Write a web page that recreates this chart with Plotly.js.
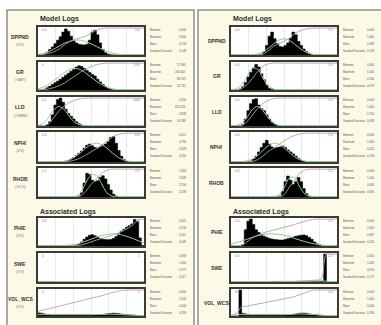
<!DOCTYPE html>
<html><head><meta charset="utf-8">
<script src="https://cdn.plot.ly/plotly-3.0.1.min.js"></script>
<style>html,body{margin:0;padding:0;background:#fff;}#chart{width:381px;height:325px;}</style>
</head><body><div id="chart"></div>
<script>
// ---------- data ----------
const BIN_X = [0,2.5,5,7.5,10,12.5,15,17.5,20,22.5,25,27.5,30,32.5,35,37.5,40,42.5,45,47.5,50,52.5,55,57.5,60,62.5,65,67.5,70,72.5,75,77.5,80,82.5,85,87.5,90,92.5,95,97.5,100];
const FIT_X = [0,5,10,15,20,25,30,35,40,45,50,55,60,65,70,75,80,85,90,95,100];

const MODEL_LOGS = ['DPPND','GR','LLD','NPHI','RHOB'];
const ASSOC_LOGS = ['PHIE','SWE','VOL_WCS'];
const LEFT_UNITS = ['(V/V)','(GAPI)','(OHMM)','(V/V)','(G/C3)','(V/V)','(V/V)','(V/V)'];
const STAT_LABELS = ['Minimum','Maximum','Mean','Standard Deviation'];
const LEFT_MIN  = ['0.000','17.963','0.200','0.012','1.483','0.001','0.083','0.000'];
const LEFT_MAX  = ['0.600','243.645','618.258','0.780','2.839','0.234','1.000','1.000'];
const LEFT_MEAN = ['0.133','88.529','2.848','0.329','2.294','0.115','0.977','0.404'];
const LEFT_STD  = ['0.148','32.745','10.588','0.116','0.139','0.068','0.117','0.286'];
const RIGHT_MIN  = ['0.000','0.000','0.000','0.000','0.000','0.000','0.000','0.000'];
const RIGHT_MAX  = ['1.000','1.000','1.000','1.000','1.000','1.000','1.000','1.000'];
const RIGHT_MEAN = ['0.489','0.166','0.190','0.424','0.634','0.387','0.913','0.404'];
const RIGHT_STD  = ['0.136','0.079','0.088','0.136','0.091','0.202','0.177','0.286'];
const LEFT_CORNER_LO = ['0.0','0','0.1','0.0','1.5','0.0','0','0'];
const LEFT_CORNER_HI = ['0.6','250','1000','0.8','2.9','0.3','1','1'];
const RIGHT_CORNER_LO = ['0.0','0.0','0.0','0.0','0.0','0.0','0.0','0.0'];
const RIGHT_CORNER_HI = ['1.0','1.0','1.0','1.0','1.0','1.0','1.0','1.0'];

// left panel (raw logs)
const L_DPPND_HIST = [0,0,0.03,0.1,0.2,0.3,0.42,0.55,0.68,0.85,0.97,0.88,0.7,0.55,0.45,0.4,0.38,0.37,0.4,0.55,0.85,0.92,0.75,0.45,0.2,0.08,0.03,0.01,0,0,0,0,0,0,0,0,0,0,0,0,0];
const L_GR_HIST    = [0,0,0.03,0.08,0.14,0.2,0.27,0.33,0.4,0.47,0.55,0.62,0.7,0.76,0.85,0.9,0.87,0.8,0.72,0.65,0.58,0.52,0.4,0.3,0.2,0.12,0.06,0.02,0,0,0,0,0,0,0,0,0,0,0,0,0];
const L_LLD_HIST   = [0,0,0,0.05,0.15,0.4,0.75,0.95,1.0,0.85,0.6,0.45,0.35,0.25,0.15,0.08,0.03,0.01,0,0,0,0,0,0,0,0,0,0,0,0,0,0,0,0,0,0,0,0,0,0,0];
const L_NPHI_HIST  = [0,0,0,0,0,0,0,0,0,0,0.02,0.05,0.1,0.15,0.22,0.3,0.38,0.48,0.58,0.62,0.56,0.5,0.48,0.52,0.58,0.62,0.7,0.85,0.88,0.65,0.4,0.2,0.08,0.02,0,0,0,0,0,0,0];
const L_RHOB_HIST  = [0,0,0,0,0,0,0,0,0,0,0,0,0,0,0,0.03,0.15,0.5,0.85,0.8,0.6,0.55,0.58,0.7,0.76,0.65,0.45,0.25,0.1,0.03,0,0,0,0,0,0,0,0,0,0,0];
const L_PHIE_HIST  = [0,0,0,0,0,0,0,0,0,0,0,0,0,0,0.02,0.06,0.15,0.25,0.33,0.4,0.42,0.38,0.32,0.28,0.25,0.24,0.23,0.24,0.28,0.35,0.45,0.55,0.62,0.7,0.75,0.82,0.98,0.9,0.3,0.02,0];
const L_SWE_HIST   = [0.01,0.01,0.01,0.01,0.01,0.01,0,0,0,0,0,0,0,0,0,0,0,0,0,0,0,0,0,0,0,0,0,0,0,0,0,0,0,0,0,0,0,0,0,0,0];
const L_VOL_HIST   = [0.12,0.1,0.08,0.06,0.05,0.05,0.04,0.05,0.05,0.04,0.05,0.05,0.04,0.05,0.05,0.05,0.04,0.05,0.05,0.05,0.05,0.04,0.05,0.05,0.06,0.07,0.09,0.1,0.11,0.1,0.09,0.07,0.05,0.05,0.04,0.04,0.03,0.02,0.01,0,0];

const L_DPPND_FIT = [0.02,0.05,0.12,0.22,0.33,0.44,0.51,0.55,0.55,0.5,0.42,0.32,0.22,0.13,0.07,0.03,0.01,0,0,0,0];
const L_GR_FIT    = [0.05,0.1,0.2,0.35,0.5,0.65,0.76,0.8,0.76,0.63,0.48,0.33,0.2,0.1,0.05,0.02,0,0,0,0,0];
const L_LLD_FIT   = [0.02,0.1,0.3,0.58,0.7,0.58,0.32,0.12,0.04,0.01,0,0,0,0,0,0,0,0,0,0,0];
const L_NPHI_FIT  = [0,0,0,0,0.01,0.03,0.08,0.18,0.32,0.48,0.6,0.65,0.6,0.48,0.32,0.18,0.08,0.03,0.01,0,0];
const L_RHOB_FIT  = [0,0,0,0,0,0,0,0.02,0.15,0.5,0.78,0.78,0.48,0.15,0.03,0,0,0,0,0,0];
const L_PHIE_FIT  = [0,0,0,0.01,0.01,0.02,0.03,0.06,0.11,0.18,0.25,0.33,0.39,0.43,0.45,0.44,0.4,0.34,0.27,0.19,0.13];
const L_SWE_FIT   = [0.02,0.02,0.02,0.01,0,0,0,0,0,0,0,0,0,0,0,0,0,0,0,0,0];
const L_VOL_FIT   = [0.06,0.06,0.05,0.05,0.05,0.05,0.05,0.05,0.05,0.05,0.05,0.06,0.06,0.07,0.07,0.06,0.05,0.04,0.03,0.02,0.01];

const L_DPPND_CUM = [0.02,0.03,0.06,0.12,0.22,0.38,0.5,0.58,0.64,0.7,0.8,0.92,0.98,1,1,1,1,1,1,1,1];
const L_GR_CUM    = [0,0.01,0.04,0.09,0.16,0.26,0.39,0.52,0.66,0.78,0.87,0.94,0.98,1,1,1,1,1,1,1,1];
const L_LLD_CUM   = [0,0.01,0.08,0.3,0.55,0.72,0.85,0.93,0.98,1,1,1,1,1,1,1,1,1,1,1,1];
const L_NPHI_CUM  = [0,0,0,0,0,0.01,0.03,0.07,0.14,0.24,0.35,0.46,0.58,0.72,0.86,0.95,0.99,1,1,1,1];
const L_RHOB_CUM  = [0,0,0,0,0,0,0,0,0.04,0.2,0.45,0.65,0.85,0.96,1,1,1,1,1,1,1];
const L_PHIE_CUM  = [0,0,0,0,0,0,0,0,0.03,0.08,0.15,0.22,0.28,0.34,0.4,0.47,0.56,0.66,0.8,0.98,1];
const L_SWE_CUM   = [0,0,0,0,0,0,0,0,0,0,0,0,0,0,0,0,0,0,0,0,0];
const L_VOL_CUM   = [0.18,0.23,0.28,0.33,0.38,0.43,0.48,0.53,0.58,0.63,0.68,0.73,0.78,0.84,0.9,0.95,0.99,1,1,1,1];

// right panel (normalised logs)
const R_DPPND_HIST = [0,0,0,0,0,0,0,0,0,0,0,0.03,0.12,0.35,0.7,0.85,0.6,0.42,0.32,0.3,0.35,0.45,0.62,0.85,0.75,0.5,0.35,0.22,0.12,0.06,0.02,0,0,0,0,0,0,0,0,0,0];
const R_GR_HIST    = [0,0,0,0.03,0.12,0.28,0.48,0.65,0.82,0.95,0.85,0.6,0.38,0.18,0.06,0.02,0,0,0,0,0,0,0,0,0,0,0,0,0,0,0,0,0,0,0,0,0,0,0,0,0];
const R_LLD_HIST   = [0,0,0,0,0.05,0.25,0.55,0.8,0.95,0.98,0.75,0.62,0.55,0.4,0.25,0.12,0.05,0.01,0,0,0,0,0,0,0,0,0,0,0,0,0,0,0,0,0,0,0,0,0,0,0];
const R_NPHI_HIST  = [0,0,0,0,0,0,0,0.03,0.1,0.2,0.35,0.5,0.65,0.75,0.62,0.52,0.48,0.5,0.52,0.55,0.5,0.42,0.35,0.28,0.2,0.12,0.06,0.02,0,0,0,0,0,0,0,0,0,0,0,0,0];
const R_RHOB_HIST  = [0,0,0,0,0,0,0,0,0,0,0,0,0,0,0,0,0,0,0.03,0.2,0.55,0.75,0.6,0.45,0.55,0.7,0.55,0.3,0.12,0.03,0,0,0,0,0,0,0,0,0,0,0];
const R_PHIE_HIST  = [0,0,0,0,0.05,0.6,0.92,1.0,0.8,0.6,0.5,0.42,0.36,0.32,0.28,0.26,0.24,0.23,0.22,0.22,0.24,0.27,0.3,0.33,0.36,0.38,0.4,0.41,0.38,0.32,0.25,0.15,0.08,0.03,0,0,0,0,0,0,0];
const R_SWE_HIST   = [0,0,0,0,0,0,0,0,0,0,0,0,0,0,0,0,0.02,0.02,0.02,0.02,0.02,0.02,0.02,0.02,0.02,0.02,0.02,0.02,0.02,0.02,0.02,0.02,0.02,0.02,0.03,1.0,0,0,0,0,0];
const R_VOL_HIST   = [0,0,0,1.0,0.1,0.08,0.05,0.05,0.04,0.05,0.05,0.05,0.04,0.05,0.05,0.05,0.04,0.05,0.05,0.05,0.05,0.04,0.05,0.06,0.08,0.1,0.11,0.11,0.1,0.08,0.06,0.05,0.04,0.03,0.02,0.01,0,0,0,0,0];

const R_DPPND_FIT = [0,0,0,0,0.01,0.04,0.1,0.25,0.4,0.55,0.6,0.55,0.4,0.25,0.12,0.04,0.01,0,0,0,0];
const R_GR_FIT    = [0.01,0.05,0.2,0.5,0.8,0.78,0.45,0.16,0.04,0.01,0,0,0,0,0,0,0,0,0,0,0];
const R_LLD_FIT   = [0,0.02,0.1,0.3,0.58,0.7,0.55,0.3,0.12,0.03,0.01,0,0,0,0,0,0,0,0,0,0];
const R_NPHI_FIT  = [0,0,0.01,0.04,0.1,0.22,0.4,0.56,0.65,0.62,0.5,0.33,0.18,0.08,0.03,0.01,0,0,0,0,0];
const R_RHOB_FIT  = [0,0,0,0,0,0,0,0,0.01,0.08,0.32,0.68,0.7,0.35,0.1,0.02,0,0,0,0,0];
const R_PHIE_FIT  = [0.08,0.12,0.18,0.25,0.32,0.38,0.42,0.45,0.45,0.43,0.4,0.35,0.28,0.22,0.16,0.11,0.07,0.04,0.02,0.01,0.01];
const R_SWE_FIT   = [0,0,0,0,0,0,0,0,0.01,0.01,0.02,0.02,0.02,0.03,0.03,0.03,0.04,0.04,0.03,0.01,0];
const R_VOL_FIT   = [0.02,0.05,0.06,0.05,0.05,0.05,0.05,0.05,0.05,0.05,0.05,0.06,0.07,0.08,0.07,0.06,0.05,0.03,0.02,0.01,0];

const R_DPPND_CUM = [0,0,0,0,0,0,0.03,0.15,0.32,0.42,0.5,0.62,0.8,0.9,0.96,0.99,1,1,1,1,1];
const R_GR_CUM    = [0,0.01,0.06,0.2,0.42,0.68,0.88,0.97,1,1,1,1,1,1,1,1,1,1,1,1,1];
const R_LLD_CUM   = [0,0,0.02,0.15,0.38,0.62,0.8,0.92,0.98,1,1,1,1,1,1,1,1,1,1,1,1];
const R_NPHI_CUM  = [0,0,0,0,0.02,0.08,0.2,0.36,0.48,0.6,0.73,0.84,0.92,0.97,1,1,1,1,1,1,1];
const R_RHOB_CUM  = [0,0,0,0,0,0,0,0,0,0,0.08,0.35,0.6,0.86,0.97,1,1,1,1,1,1];
const R_PHIE_CUM  = [0,0,0.02,0.15,0.3,0.4,0.48,0.54,0.59,0.64,0.69,0.74,0.8,0.86,0.92,0.97,1,1,1,1,1];
const R_SWE_CUM   = [0,0,0,0,0,0,0,0,0,0,0,0.01,0.02,0.03,0.04,0.05,0.07,0.1,1,1,1];
const R_VOL_CUM   = [0,0.1,0.35,0.38,0.42,0.46,0.5,0.54,0.58,0.62,0.66,0.7,0.75,0.82,0.9,0.97,1,1,1,1,1];

const LEFT_HIST = [L_DPPND_HIST,L_GR_HIST,L_LLD_HIST,L_NPHI_HIST,L_RHOB_HIST,L_PHIE_HIST,L_SWE_HIST,L_VOL_HIST];
const LEFT_FIT  = [L_DPPND_FIT,L_GR_FIT,L_LLD_FIT,L_NPHI_FIT,L_RHOB_FIT,L_PHIE_FIT,L_SWE_FIT,L_VOL_FIT];
const LEFT_CUM  = [L_DPPND_CUM,L_GR_CUM,L_LLD_CUM,L_NPHI_CUM,L_RHOB_CUM,L_PHIE_CUM,L_SWE_CUM,L_VOL_CUM];
const RIGHT_HIST = [R_DPPND_HIST,R_GR_HIST,R_LLD_HIST,R_NPHI_HIST,R_RHOB_HIST,R_PHIE_HIST,R_SWE_HIST,R_VOL_HIST];
const RIGHT_FIT  = [R_DPPND_FIT,R_GR_FIT,R_LLD_FIT,R_NPHI_FIT,R_RHOB_FIT,R_PHIE_FIT,R_SWE_FIT,R_VOL_FIT];
const RIGHT_CUM  = [R_DPPND_CUM,R_GR_CUM,R_LLD_CUM,R_NPHI_CUM,R_RHOB_CUM,R_PHIE_CUM,R_SWE_CUM,R_VOL_CUM];

// ---------- layout geometry (pixels) ----------
const W = 381, H = 325;
const BOX_Y = [[27,55],[62,90],[97,126],[132,162],[168,197],[218,246],[253,282],[289,316]];
const PANELS = [
  {px0:7, px1:194, bx0:38, bx1:144, nameX:20, statL:148, statR:188, hist:LEFT_HIST, fit:LEFT_FIT, cum:LEFT_CUM,
   units:LEFT_UNITS, stats:[LEFT_MIN,LEFT_MAX,LEFT_MEAN,LEFT_STD], lo:LEFT_CORNER_LO, hi:LEFT_CORNER_HI},
  {px0:198, px1:386, bx0:231, bx1:337, nameX:217, statL:341, statR:376, hist:RIGHT_HIST, fit:RIGHT_FIT, cum:RIGHT_CUM,
   units:null, stats:[RIGHT_MIN,RIGHT_MAX,RIGHT_MEAN,RIGHT_STD], lo:RIGHT_CORNER_LO, hi:RIGHT_CORNER_HI}
];
const px = x => x / W;
const py = y => 1 - y / H;
const LOG_NAMES = MODEL_LOGS.concat(ASSOC_LOGS);
const NARROW = 'Liberation Sans Narrow, Liberation Sans, Arial, sans-serif';

const traces = [], shapes = [], annotations = [];
const layout = {
  width: W, height: H, margin: {l:0, r:0, t:0, b:0},
  paper_bgcolor: '#ffffff', plot_bgcolor: 'rgba(0,0,0,0)', showlegend: false
};

PANELS.forEach((p, pi) => {
  shapes.push({type:'rect', xref:'paper', yref:'paper', layer:'below',
    x0:px(p.px0), x1:px(p.px1), y0:py(335), y1:py(10),
    fillcolor:'#fcfae6', line:{color:'#8f8f88', width:1.5}});
  annotations.push({xref:'paper', yref:'paper', x:px(p.bx0), y:py(19), text:'<b>Model Logs</b>',
    showarrow:false, xanchor:'left', yanchor:'middle', font:{family:NARROW, size:7, color:'#2b2b2b'}});
  annotations.push({xref:'paper', yref:'paper', x:px(p.bx0), y:py(212), text:'<b>Associated Logs</b>',
    showarrow:false, xanchor:'left', yanchor:'middle', font:{family:NARROW, size:7, color:'#2b2b2b'}});

  BOX_Y.forEach((by, k) => {
    const idx = pi * 8 + k + 1;
    const xa = 'xaxis' + (idx === 1 ? '' : idx), ya = 'yaxis' + (idx === 1 ? '' : idx);
    const xr = 'x' + (idx === 1 ? '' : idx), yr = 'y' + (idx === 1 ? '' : idx);
    layout[xa] = {domain:[px(p.bx0), px(p.bx1)], range:[0,100], anchor:yr,
      showticklabels:false, ticks:'', zeroline:false, showgrid:true, gridcolor:'#d9d9d9', gridwidth:0.6,
      tick0:0, dtick:100/6, showline:true, mirror:true, linecolor:'#3a3a3a', linewidth:2, fixedrange:true};
    layout[ya] = {domain:[py(by[1]), py(by[0])], range:[0,1.04], anchor:xr,
      showticklabels:false, ticks:'', zeroline:false, showgrid:false,
      showline:true, mirror:true, linecolor:'#3a3a3a', linewidth:2, fixedrange:true};
    shapes.push({type:'rect', xref:'paper', yref:'paper', layer:'below',
      x0:px(p.bx0), x1:px(p.bx1), y0:py(by[1]), y1:py(by[0]), fillcolor:'#ffffff', line:{width:0}});

    traces.push({type:'scatter', mode:'lines', x:BIN_X, y:p.hist[k], xaxis:xr, yaxis:yr,
      line:{color:'#000000', width:0.6, shape:'hv'}, fill:'tozeroy', fillcolor:'#000000', hoverinfo:'skip'});
    traces.push({type:'scatter', mode:'lines', x:FIT_X, y:p.fit[k], xaxis:xr, yaxis:yr,
      line:{color:'#86d686', width:1, shape:'spline'}, hoverinfo:'skip'});
    traces.push({type:'scatter', mode:'lines', x:FIT_X, y:p.cum[k], xaxis:xr, yaxis:yr,
      line:{color:(pi===0 && k===7) ? '#c99aae' : '#aaa4a8', width:0.9, shape:'spline'}, hoverinfo:'skip'});

    const cy = (by[0] + by[1]) / 2;
    if (p.units) {
      annotations.push({xref:'paper', yref:'paper', x:px(p.nameX), y:py(cy - 4), text:'<b>' + LOG_NAMES[k] + '</b>',
        showarrow:false, xanchor:'center', yanchor:'middle', font:{family:NARROW, size:5, color:'#333'}});
      annotations.push({xref:'paper', yref:'paper', x:px(p.nameX), y:py(cy + 4), text:p.units[k],
        showarrow:false, xanchor:'center', yanchor:'middle', font:{family:NARROW, size:3.5, color:'#777'}});
    } else {
      annotations.push({xref:'paper', yref:'paper', x:px(p.nameX), y:py(cy), text:'<b>' + LOG_NAMES[k] + '</b>',
        showarrow:false, xanchor:'center', yanchor:'middle', font:{family:NARROW, size:5, color:'#333'}});
    }
    annotations.push({xref:'paper', yref:'paper', x:px(p.bx0 + 2), y:py(by[0] + 3), text:p.lo[k],
      showarrow:false, xanchor:'left', yanchor:'middle', font:{family:NARROW, size:3.2, color:'#777'}});
    annotations.push({xref:'paper', yref:'paper', x:px(p.bx1 - 2), y:py(by[0] + 3), text:p.hi[k],
      showarrow:false, xanchor:'right', yanchor:'middle', font:{family:NARROW, size:3.2, color:'#777'}});

    STAT_LABELS.forEach((lab, s) => {
      const yy = by[0] + 3 + s * 7;
      annotations.push({xref:'paper', yref:'paper', x:px(p.statL), y:py(yy), text:lab,
        showarrow:false, xanchor:'left', yanchor:'middle', font:{family:NARROW, size:2.6, color:'#555'}});
      annotations.push({xref:'paper', yref:'paper', x:px(p.statR), y:py(yy), text:p.stats[s][k],
        showarrow:false, xanchor:'right', yanchor:'middle', font:{family:NARROW, size:2.8, color:'#555'}});
    });
  });
});

layout.shapes = shapes;
layout.annotations = annotations;
Plotly.newPlot('chart', traces, layout, {staticPlot:true, displayModeBar:false});
</script>
</body></html>
